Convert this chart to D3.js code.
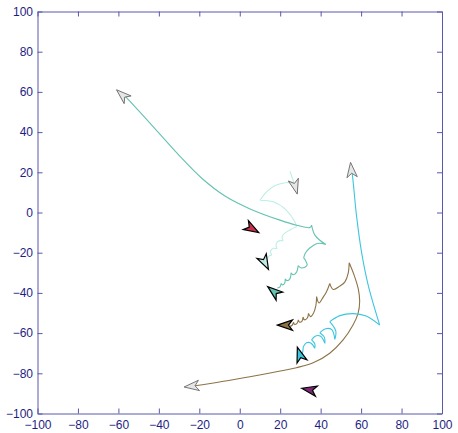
<!DOCTYPE html>
<html>
<head>
<meta charset="utf-8">
<script src="https://cdn.jsdelivr.net/npm/d3@7"></script>
<style>
body { margin: 0; background: #fff; }
svg { display: block; font-family: "Liberation Sans", Arial, sans-serif; }
</style>
</head>
<body>
<svg id="chart" width="458" height="433"></svg>
<script>

// tick values, both axes
var ticks = [-100, -80, -60, -40, -20, 0, 20, 40, 60, 80, 100];

// trails: list of smooth pieces, joined at the cusps (from current boid outwards)
var tealTrail = [
	[[18.6,-37.6],[19.9,-37.0],[20.4,-35.3]],
	[[20.4,-35.3],[21.2,-36.0],[22.2,-35.2],[22.5,-33.0]],
	[[22.5,-33.0],[23.4,-33.9],[24.8,-33.0],[25.4,-30.0]],
	[[25.4,-30.0],[26.4,-31.0],[28.0,-29.8],[28.9,-26.4]],
	[[28.9,-26.4],[30.2,-27.5],[32.2,-27.2],[33.3,-26.2],[32.6,-24.0],[31.6,-22.6]],
	[[31.6,-22.6],[32.4,-20.3],[34.5,-17.8],[38.5,-15.4],[42.6,-15.9]],
	[[42.6,-15.9],[39.6,-13.8],[37.0,-11.0],[35.5,-6.3]],
	[[35.5,-6.3],[34.7,-7.5],[28.1,-6.3],[19.9,-3.8],[5.1,1.8],[-7.3,8.2],[-18.5,16.8],[-31.0,29.5],[-44.4,44.5],[-57.0,58.3]]
];

var paleTrail = [
	[[13.4,-23.2],[14.6,-21.6],[15.8,-21.2]],
	[[15.8,-21.2],[15.2,-19.2],[16.8,-17.8],[18.4,-18.0]],
	[[18.4,-18.0],[18.0,-15.6],[19.8,-14.0],[21.4,-14.2]],
	[[21.4,-14.2],[21.0,-11.8],[23.6,-9.4],[28.1,-7.1]],
	[[28.1,-7.1],[27.3,-4.7],[23.1,1.1],[16.6,5.3],[10.0,6.1]],
	[[10.0,6.1],[13.5,10.5],[17.5,13.4],[22.5,14.8],[26.8,15.0]],
	[[26.8,15.0],[25.8,17.6],[24.9,20.5]]
];

var brownTrail = [
	[[24.8,-56.6],[25.9,-56.1],[26.6,-54.6]],
	[[26.6,-54.6],[27.1,-55.7],[28.3,-55.1],[29.0,-53.4]],
	[[29.0,-53.4],[29.6,-54.6],[30.8,-54.0],[31.3,-52.0]],
	[[31.3,-52.0],[32.0,-53.4],[33.4,-52.5],[34.0,-50.2]],
	[[34.0,-50.2],[35.0,-51.8],[36.5,-50.0],[37.6,-46.5],[38.0,-41.8]],
	[[38.0,-41.8],[39.2,-45.0],[41.2,-42.2],[42.9,-39.4],[44.5,-35.3]],
	[[44.5,-35.3],[46.2,-38.3],[49.5,-36.6],[52.0,-34.5],[53.6,-30.3],[54.1,-25.0]],
	[[54.1,-25.0],[56.5,-31.0],[58.6,-38.0],[59.3,-44.0],[58.5,-50.2],[56.0,-56.0],[51.1,-63.4],[44.5,-70.0],[36.3,-74.8],[28.0,-77.2],[21.5,-78.6],[5.0,-81.7],[-11.4,-84.6],[-23.0,-86.3],[-24.5,-86.4]]
];

var cyanTrail = [
	[[30.6,-71.5],[31.2,-69.0],[31.4,-66.8]],
	[[31.4,-66.8],[33.0,-64.8],[35.3,-65.0],[37.1,-67.6]],
	[[37.1,-67.6],[37.1,-65.3],[35.5,-63.4]],
	[[35.5,-63.4],[37.5,-61.4],[40.0,-61.6],[42.1,-65.1]],
	[[42.1,-65.1],[41.8,-62.0],[39.6,-59.8]],
	[[39.6,-59.8],[42.5,-57.8],[45.5,-58.3],[47.0,-63.1]],
	[[47.0,-63.1],[47.5,-59.0],[44.5,-54.3]],
	[[44.5,-54.3],[49.5,-51.3],[56.1,-50.3],[62.5,-51.5],[69.2,-56.0]],
	[[69.2,-56.0],[63.5,-36.1],[60.2,-19.6],[57.7,-1.3],[55.7,18.5],[55.2,21.0]]
];

var trails = [
	{ pts: paleTrail,  col: "#bdeee6" },
	{ pts: tealTrail,  col: "#66c2b2" },
	{ pts: brownTrail, col: "#8c7346" },
	{ pts: cyanTrail,  col: "#3cc6de" }
];

// boids now: x, y, heading (deg), fill
var boidX    = [6.0, 12.4, 16.9, 22.6, 29.7, 34.5];
var boidY    = [-8.0, -24.8, -39.4, -56.0, -70.8, -88.2];
var boidHead = [-30, -63, 141, 180, 108, 169];
var boidCol  = ["#c8304c", "#bdeee6", "#66c2b2", "#8c7346", "#3cc6de", "#7a2a72"];

// old positions (hollow gray): x, y, heading
var ghostX    = [-58.0, 27.4, 55.2, -23.6];
var ghostY    = [58.4, 13.0, 21.0, -86.4];
var ghostHead = [138, -75, 96, 186];

var svg = d3.select("#chart");

var x = d3.scaleLinear().domain([-100, 100]).range([37.5, 442]);
var y = d3.scaleLinear().domain([-100, 100]).range([413.5, 11.5]);

var axcol = "#5858ac", txtcol = "#1e1e82";

function styleaxis(g)	{
	g.select(".domain").attr("stroke", axcol);
	g.selectAll(".tick line").attr("stroke", axcol);
	g.selectAll(".tick text").attr("fill", txtcol).attr("font-size", 12);
}

svg.append("g")
	.attr("transform", `translate(0,${y(-100)})`)
	.call(d3.axisBottom(x).tickValues(ticks).tickSizeInner(-5).tickSizeOuter(0).tickPadding(6.5))
	.call(styleaxis);
svg.append("g")
	.attr("transform", `translate(0,${y(100)})`)
	.call(d3.axisTop(x).tickValues(ticks).tickSizeInner(-5).tickSizeOuter(0).tickFormat(""))
	.call(styleaxis);
svg.append("g")
	.attr("transform", `translate(${x(-100)},0)`)
	.call(d3.axisLeft(y).tickValues(ticks).tickSizeInner(-5).tickSizeOuter(0).tickPadding(4.5))
	.call(styleaxis);
svg.append("g")
	.attr("transform", `translate(${x(100)},0)`)
	.call(d3.axisRight(y).tickValues(ticks).tickSizeInner(-5).tickSizeOuter(0).tickFormat(""))
	.call(styleaxis);

// trails
var line = d3.line()
	.x(d => x(d[0]))
	.y(d => y(d[1]))
	.curve(d3.curveCatmullRom.alpha(0.5));

svg.append("g").selectAll("path")
	.data(trails)
	.join("path")
		.attr("d", t => t.pts.map(s => line(s)).join(""))
		.attr("fill", "none")
		.attr("stroke", t => t.col)
		.attr("stroke-width", 1.1);

// dart shaped arrow, pointing along +x
var dart = "M8,0L-7,-5.2L-3,0L-7,5.2Z";

svg.append("g").selectAll("path")
	.data(ghostX.map((v, i) => i))
	.join("path")
		.attr("d", dart)
		.attr("transform", i => `translate(${x(ghostX[i])},${y(ghostY[i])}) rotate(${-ghostHead[i]})`)
		.attr("fill", "#e6e6e6")
		.attr("stroke", "#6e6e6e")
		.attr("stroke-width", 0.9);

svg.append("g").selectAll("path")
	.data(boidX.map((v, i) => i))
	.join("path")
		.attr("d", dart)
		.attr("transform", i => `translate(${x(boidX[i])},${y(boidY[i])}) rotate(${-boidHead[i]})`)
		.attr("fill", i => boidCol[i])
		.attr("stroke", "#000")
		.attr("stroke-width", 1.2)
		.attr("stroke-linejoin", "miter");

</script>
</body>
</html>
